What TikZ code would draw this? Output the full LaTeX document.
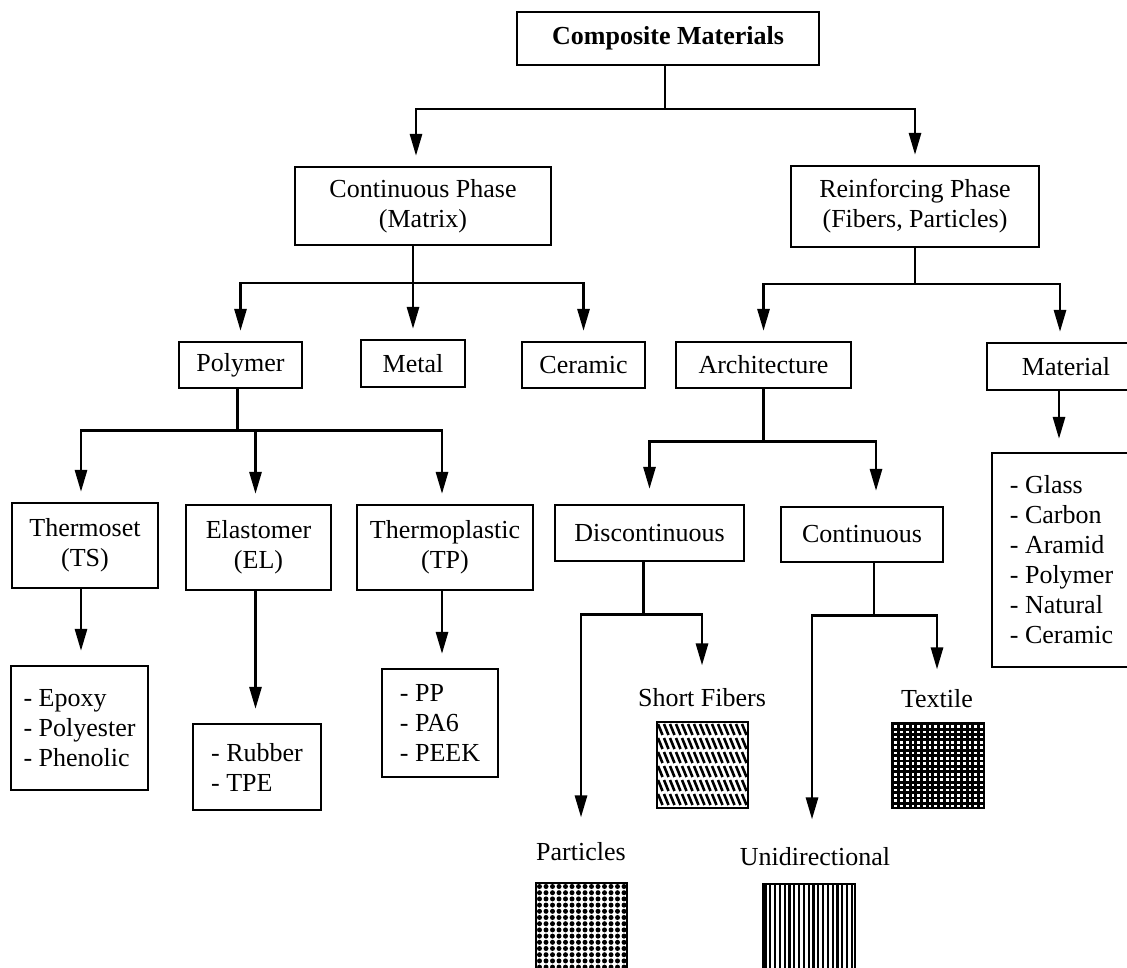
\documentclass[tikz,border=0pt]{standalone}
\usepackage{fontspec}
\setmainfont{Liberation Serif}
\usetikzlibrary{arrows.meta}
\newcommand\diagfont{\fontsize{13}{15}\selectfont}
\tikzset{box/.style={draw,line width=1.1pt,align=center,inner sep=0pt,font=\diagfont},
  listbox/.style={box,align=left},
  lbl/.style={inner sep=0pt,font=\diagfont},
  wire/.style={line width=1.4pt},
  edge/.style={wire,-{Triangle[length=11pt,width=6pt]},shorten >=5pt},
  swatch/.style={inner sep=0pt,outer sep=0pt,anchor=north west},
  rim/.style={draw,line width=1.2pt}}

\begin{document}
\begin{tikzpicture}[x=0.5pt,y=-0.5pt]
  \useasboundingbox (0,0) rectangle (1127,967);
  \clip (0,0) rectangle (1127,967);
  % top levels
  \node[box,minimum width=151pt,minimum height=26.5pt,font=\diagfont\bfseries] (cm) at (668,38.5) {Composite Materials};
  \node[box,minimum width=128pt,minimum height=39pt] (cp) at (423,206) {Continuous Phase\\(Matrix)};
  \node[box,minimum width=124pt,minimum height=40.5pt] (rp) at (915,206.5) {Reinforcing Phase\\(Fibers, Particles)};
  \node[box,minimum width=61.5pt,minimum height=23pt] (poly) at (240.5,365) {Polymer};
  \node[box,minimum width=52pt,minimum height=23.5pt] (metal) at (413,363.5) {Metal};
  \node[box,minimum width=61.5pt,minimum height=23pt] (cer) at (583.5,365) {Ceramic};
  \node[box,minimum width=87.5pt,minimum height=23pt] (arch) at (763.5,365) {Architecture};
  \node[box,minimum width=79pt,minimum height=23.5pt] (mat) at (1066,366.5) {Material};
  \node[box,minimum width=73pt,minimum height=42.5pt] (ts) at (85,545.5) {Thermoset\\(TS)};
  \node[box,minimum width=72.5pt,minimum height=42.5pt] (el) at (258.5,547.5) {Elastomer\\(EL)};
  \node[box,minimum width=88pt,minimum height=42.5pt] (tp) at (445,547.5) {Thermoplastic\\(TP)};
  \node[box,minimum width=94.5pt,minimum height=28pt] (disc) at (649.5,533) {Discontinuous};
  \node[box,minimum width=81pt,minimum height=27.5pt] (cont) at (862,534.5) {Continuous};
  % lists
  \node[listbox,minimum width=68.5pt,minimum height=62pt] (tslist) at (79.5,728) {- Epoxy\\- Polyester\\- Phenolic};
  \node[listbox,minimum width=64pt,minimum height=43pt] (ellist) at (257,767) {- Rubber\\- TPE};
  \node[listbox,minimum width=58pt,minimum height=54pt] (tplist) at (440,723) {- PP\\- PA6\\- PEEK};
  \node[listbox,minimum width=69.5pt,minimum height=107pt] (matlist) at (1061.5,560) {- Glass\\- Carbon\\- Aramid\\- Polymer\\- Natural\\- Ceramic};
  % reinforcement forms
  \node[lbl] (sflbl) at (702,698) {Short Fibers};
  \node[lbl] (txlbl) at (937,699) {Textile};
  \node[lbl] (ptlbl) at (581,852) {Particles};
  \node[lbl] (udlbl) at (815,857) {Unidirectional};
  \node[swatch,minimum width=45.5pt,minimum height=43pt] (sfsq) at (657,722) {};
  \node[swatch,fill=black,minimum width=46pt,minimum height=42.5pt] (txsq) at (892,723) {};
  \node[swatch,minimum width=45.5pt,minimum height=45.5pt] (ptsq) at (536,883) {};
  \node[swatch,minimum width=46pt,minimum height=46pt] (udsq) at (763,884) {};
  % swatch fillings, in picture units from each top left corner
  \begin{scope}[shift={(sfsq.north west)}]
    \clip (0,0) rectangle (91,86);
    \foreach \r in {0,...,5} \foreach \c in {0,...,15}
      \draw[line width=1.3pt] (1+6*\c,2+14*\r) -- ++(4.5,11);
  \end{scope}
  \begin{scope}[shift={(txsq.north west)}]
    \clip (0,0) rectangle (92,85);
    \foreach \i in {0,...,15} \foreach \j in {0,...,15}
      \fill[white] (2.4+5.7*\i,2.2+5.3*\j) rectangle ++(2.8,2.6);
  \end{scope}
  \begin{scope}[shift={(ptsq.north west)}]
    \clip (0,0) rectangle (91,91);
    \foreach \i in {0,...,13} \foreach \j in {0,...,14}
      \fill (3.5+6.5*\i,3.5+6.2*\j) circle[radius=1.25pt];
  \end{scope}
  \begin{scope}[shift={(udsq.north west)}]
    \clip (0,0) rectangle (92,92);
    \foreach \i in {0,...,18}
      \draw[line width=1.1pt] (2.4+4.8*\i,0) -- ++(0,92);
  \end{scope}
  \foreach \s in {sfsq,txsq,ptsq,udsq}
    \draw[rim] (\s.north west) rectangle (\s.south east);
  % connectors
  \draw[wire] ([xshift=-1.5pt]cm.south) -- ++(0,43) coordinate (jcm);
  \draw[edge] (jcm) -| ([xshift=-3.5pt]cp.north);
  \draw[edge] (jcm) -| (rp.north);
  \draw[wire] ([xshift=-5pt]cp.south) -- ++(0,37) coordinate (jcp);
  \draw[edge] (jcp) -| (poly.north);
  \draw[edge] (jcp) -| (metal.north);
  \draw[edge] (jcp) -| (cer.north);
  \draw[wire] (rp.south) -- ++(0,36) coordinate (jrp);
  \draw[edge] (jrp) -| (arch.north);
  \draw[edge] (jrp) -| ([xshift=-3pt]mat.north);
  \draw[wire] ([xshift=-1.5pt]poly.south) -- ++(0,41) coordinate (jpoly);
  \draw[edge] (jpoly) -| ([xshift=-2pt]ts.north);
  \draw[edge] (jpoly) -| ([xshift=-1.5pt]el.north);
  \draw[edge] (jpoly) -| ([xshift=-1.5pt]tp.north);
  \draw[wire] (arch.south) -- ++(0,52) coordinate (jarch);
  \draw[edge,shorten >=7.5pt] (jarch) -| (disc.north);
  \draw[edge,shorten >=7.5pt] (jarch) -| ([xshift=7pt]cont.north);
  \draw[edge,shorten >=6.5pt] ([xshift=-3.5pt]mat.south) -- ([xshift=-3.5pt]mat.south |- matlist.north);
  \draw[edge,shorten >=7pt] ([xshift=-2pt]ts.south) -- ([xshift=-2pt]ts.south |- tslist.north);
  \draw[edge,shorten >=7pt] ([xshift=-1.5pt]el.south) -- ([xshift=-1.5pt]el.south |- ellist.north);
  \draw[edge,shorten >=7pt] ([xshift=-1.5pt]tp.south) -- ([xshift=-1.5pt]tp.south |- tplist.north);
  \draw[wire] ([xshift=-3pt]disc.south) -- ++(0,52) coordinate (jdisc);
  \draw[edge,shorten >=12.5pt] (jdisc) -| (ptlbl.north);
  \draw[edge,shorten >=11.5pt] (jdisc) -| (sflbl.north);
  \draw[wire] ([xshift=6pt]cont.south) -- ++(0,52) coordinate (jcont);
  \draw[edge,shorten >=14pt] (jcont) -| ([xshift=-1.5pt]udlbl.north);
  \draw[edge,shorten >=10pt] (jcont) -| (txlbl.north);
\end{tikzpicture}
\end{document}
